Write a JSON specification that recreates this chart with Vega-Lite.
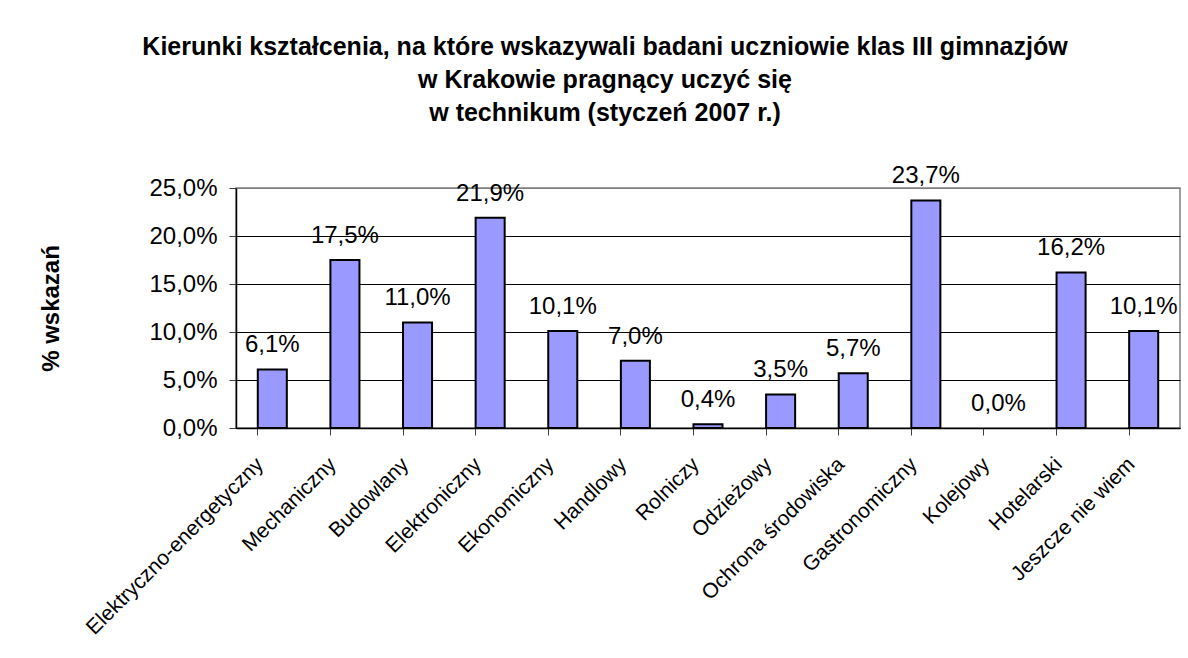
{
  "$schema": "https://vega.github.io/schema/vega-lite/v6.json",
  "autosize": "none",
  "width": 944,
  "height": 240,
  "padding": {"left": 236, "top": 188, "right": 8, "bottom": 230},
  "background": "white",
  "config": {
    "locale": {"number": {"decimal": ",", "thousands": " ", "grouping": [3], "currency": ["", " zł"]}},
    "font": "Liberation Sans",
    "view": {"stroke": "#808080", "strokeWidth": 1.5}
  },
  "title": {
    "text": ["Kierunki kształcenia, na które wskazywali badani uczniowie klas III gimnazjów", "w Krakowie pragnący uczyć się", "w technikum (styczeń 2007 r.)"],
    "fontSize": 25,
    "fontWeight": "bold",
    "font": "Liberation Sans",
    "color": "black",
    "lineHeight": 33,
    "anchor": "middle",
    "frame": "group",
    "dx": -103,
    "offset": 38
  },
  "data": {
    "values": [
      {"kierunek": "Elektryczno-energetyczny", "udzial": 0.061},
      {"kierunek": "Mechaniczny", "udzial": 0.175},
      {"kierunek": "Budowlany", "udzial": 0.110},
      {"kierunek": "Elektroniczny", "udzial": 0.219},
      {"kierunek": "Ekonomiczny", "udzial": 0.101},
      {"kierunek": "Handlowy", "udzial": 0.070},
      {"kierunek": "Rolniczy", "udzial": 0.004},
      {"kierunek": "Odzieżowy", "udzial": 0.035},
      {"kierunek": "Ochrona środowiska", "udzial": 0.057},
      {"kierunek": "Gastronomiczny", "udzial": 0.237},
      {"kierunek": "Kolejowy", "udzial": 0.0},
      {"kierunek": "Hotelarski", "udzial": 0.162},
      {"kierunek": "Jeszcze nie wiem", "udzial": 0.101}
    ]
  },
  "encoding": {
    "x": {
      "field": "kierunek",
      "type": "nominal",
      "sort": null,
      "scale": {"paddingInner": 0.6, "paddingOuter": 0.3},
      "axis": {
        "title": null,
        "labelAngle": -45,
        "labelAlign": "right",
        "labelBaseline": "middle",
        "labelFontSize": 21,
        "labelColor": "black",
        "labelPadding": 26,
        "labelOffset": -12,
        "labelLimit": 0,
        "labelFont": "Liberation Sans",
        "bandPosition": 0,
        "tickColor": "#404040",
        "tickSize": 7,
        "tickWidth": 1,
        "domainColor": "black",
        "domainWidth": 1.5,
        "grid": false
      }
    },
    "y": {
      "field": "udzial",
      "type": "quantitative",
      "scale": {"domain": [0, 0.25], "nice": false},
      "axis": {
        "title": "% wskazań",
        "titleFontSize": 24,
        "titleFontWeight": "bold",
        "titleColor": "black",
        "titleFont": "Liberation Sans",
        "titleX": -185,
        "titleY": 120,
        "titleAngle": -90,
        "titleAlign": "center",
        "titleBaseline": "middle",
        "values": [0, 0.05, 0.1, 0.15, 0.2, 0.25],
        "format": ".1%",
        "labelFontSize": 24,
        "labelColor": "black",
        "labelPadding": 12,
        "labelFont": "Liberation Sans",
        "tickSize": 7,
        "tickColor": "#404040",
        "domainColor": "black",
        "domainWidth": 1.5,
        "grid": true,
        "gridColor": {"condition": {"test": "datum.value >= 0.249", "value": "#808080"}, "value": "black"},
        "gridWidth": 1
      }
    }
  },
  "layer": [
    {
      "mark": {"type": "bar", "fill": "#9999FF", "stroke": "black"},
      "encoding": {
        "strokeWidth": {"condition": {"test": "datum.udzial == 0", "value": 0}, "value": 2}
      }
    },
    {
      "mark": {"type": "text", "baseline": "alphabetic", "align": "center", "dy": -17, "fontSize": 24, "font": "Liberation Sans", "color": "black"},
      "encoding": {
        "text": {"field": "udzial", "type": "quantitative", "format": ".1%"}
      }
    }
  ]
}
